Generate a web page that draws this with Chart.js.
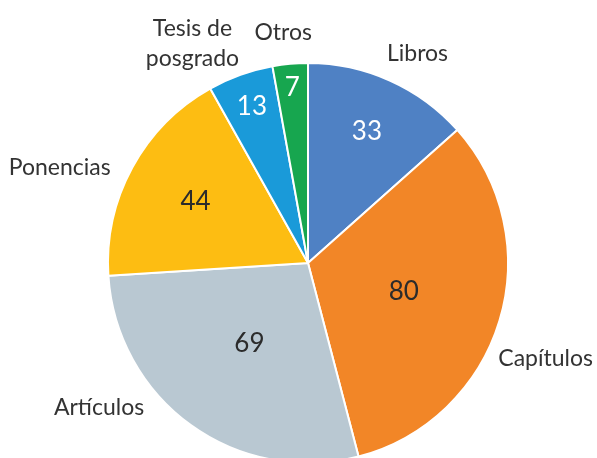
<!DOCTYPE html>
<html>
<head>
<meta charset="utf-8">
<script src="https://cdn.jsdelivr.net/npm/chart.js@4.4.1/dist/chart.umd.min.js"></script>
<style>
  html, body { margin: 0; padding: 0; background: #fff; overflow: hidden; }
  #wrap { width: 597px; height: 470px; }
</style>
</head>
<body>
<div id="wrap"><canvas id="grafica" width="597" height="470"></canvas></div>
<script>
// --------------------- DATOS ---------------------
const categorias = ["Libros", "Capítulos", "Artículos", "Ponencias", "Tesis de posgrado", "Otros"];
const etiquetas = [["Libros"], ["Capítulos"], ["Artículos"], ["Ponencias"], ["Tesis de", "posgrado"], ["Otros"]];
const valores = [33, 80, 69, 44, 13, 7];
const colores = ["#4f81c4", "#f28627", "#b9c8d2", "#fdbd12", "#1a9ad9", "#17a64f"];
const colorNumero = ["#ffffff", "#2b2b2b", "#2b2b2b", "#2b2b2b", "#ffffff", "#ffffff"];

// --------------------- PLUGIN DE ETIQUETAS ---------------------
// dentro: fraccion del radio; fuera: [desvio de angulo en grados, fraccion del radio]
const posDentro = [0.72, 0.5, 0.5, 0.64, 0.83, 0.88];
const posFuera = [[3.5, 1.18], [5, 1.28], [19.5, 1.27], [-7.5, 1.33], [-8, 1.24], [-1, 1.16]];

const etiquetasPlugin = {
  id: "etiquetas",
  afterDatasetsDraw(chart) {
    const ctx = chart.ctx;
    const arcos = chart.getDatasetMeta(0).data;
    ctx.save();
    ctx.textAlign = "center";
    ctx.textBaseline = "middle";
    arcos.forEach((arco, i) => {
      const medio = (arco.startAngle + arco.endAngle) / 2;
      const r = arco.outerRadius;
      // numero dentro de la rebanada
      ctx.font = "26px Lato";
      ctx.fillStyle = colorNumero[i];
      const rd = r * posDentro[i];
      ctx.fillText(String(valores[i]), arco.x + Math.cos(medio) * rd, arco.y + Math.sin(medio) * rd);
      // nombre fuera del pastel
      const ang = medio + posFuera[i][0] * Math.PI / 180;
      const rf = r * posFuera[i][1];
      const x = arco.x + Math.cos(ang) * rf;
      const y = arco.y + Math.sin(ang) * rf;
      ctx.font = "23px Lato";
      ctx.fillStyle = "#333333";
      const lineas = etiquetas[i];
      lineas.forEach((t, k) => {
        ctx.fillText(t, x, y + (k - (lineas.length - 1) / 2) * 30);
      });
    });
    ctx.restore();
  }
};

// --------------------- GRAFICA ---------------------
new Chart(document.getElementById("grafica"), {
  type: "pie",
  data: {
    labels: categorias,
    datasets: [{
      data: valores,
      backgroundColor: colores,
      borderColor: "#ffffff",
      borderWidth: 2
    }]
  },
  options: {
    responsive: false,
    animation: false,
    layout: { padding: { top: 62, bottom: 6, left: 107, right: 88 } },
    plugins: {
      legend: { display: false },
      tooltip: { enabled: false }
    }
  },
  plugins: [etiquetasPlugin]
});
</script>
</body>
</html>
